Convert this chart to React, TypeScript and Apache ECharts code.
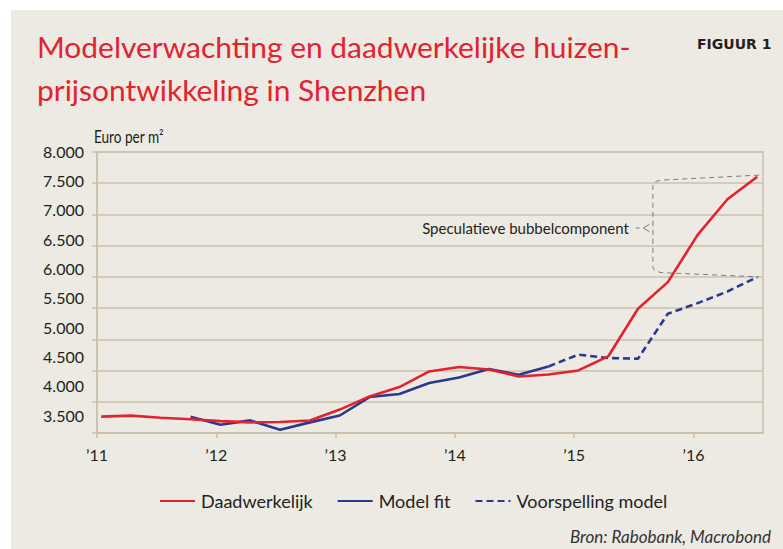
import React, { useEffect, useRef } from "react";
import * as echarts from "echarts";

// ---- Data ----
const quarters = [
  "2011K1", "2011K2", "2011K3", "2011K4",
  "2012K1", "2012K2", "2012K3", "2012K4",
  "2013K1", "2013K2", "2013K3", "2013K4",
  "2014K1", "2014K2", "2014K3", "2014K4",
  "2015K1", "2015K2", "2015K3", "2015K4",
  "2016K1", "2016K2", "2016K3",
];
const daadwerkelijk = [
  3762, 3778, 3745, 3720,
  3690, 3670, 3675, 3700,
  3875, 4086, 4236, 4486,
  4556, 4518, 4406, 4438,
  4502, 4726, 5489, 5916,
  6672, 7243, 7605,
];
const modelFit = [
  null, null, null, 3762,
  3633, 3702, 3553, 3670,
  3780, 4076, 4125, 4300,
  4390, 4524, 4433, 4566,
  null, null, null, null,
  null, null, null,
];
const voorspellingModel = [
  null, null, null, null,
  null, null, null, null,
  null, null, null, null,
  null, null, null, 4566,
  4755, 4700, 4690, 5409,
  5580, 5766, 5996,
];
const seriesNames = ["Daadwerkelijk", "Model fit", "Voorspelling model"];
const yearTicks = [2011, 2012, 2013, 2014, 2015, 2016];
const yMin = 3500;
const yMax = 8000;
const yStep = 500;

// annotation anchors (in data units)
const bracketLeftX = 2015.66;
const bracketRightX = 2016.55;
const bracketTopValue = 7630;
const bracketBottomValue = 6000;

const RED = "#E3222F";
const BLUE = "#2A3990";
const GRID = "#CDC1AB";
const TEXT = "#231F20";
const FONT = "Lato";

function quarterToYear(q: string): number {
  const y = Number(q.slice(0, 4));
  const n = Number(q.slice(5));
  return y + (n - 1) * 0.25 + 0.035;
}

function pairs(values: (number | null)[]) {
  const out: [number, number][] = [];
  values.forEach((v, i) => {
    if (v !== null) out.push([quarterToYear(quarters[i]), v]);
  });
  return out;
}

function fmtThousands(v: number): string {
  const s = String(Math.round(v));
  return s.replace(/\B(?=(\d{3})+(?!\d))/g, ".");
}

export default function App() {
  const ref = useRef<HTMLDivElement>(null);

  useEffect(() => {
    if (!ref.current) return;
    const chart = echarts.init(ref.current, null, { renderer: "svg" });

    const option: any = {
      animation: false,
      backgroundColor: "transparent",
      grid: [
        {
          left: 97, top: 152, width: 666, height: 281,
          show: true, borderColor: GRID, borderWidth: 1.5,
          backgroundColor: "transparent",
        },
        { left: 92, top: 151, width: 1, height: 264, show: false },
      ],
      xAxis: [
        {
          type: "value", gridIndex: 0, min: 2011, max: 2016.583,
          axisLine: { show: true, lineStyle: { color: GRID, width: 1.5 } },
          axisTick: {
            show: true, length: 5, inside: false,
            lineStyle: { color: GRID, width: 1.5 },
            customValues: yearTicks,
          },
          axisLabel: {
            customValues: yearTicks,
            formatter: (v: number) => "\u2019" + String(v).slice(2),
            fontFamily: FONT, fontSize: 16, color: TEXT, margin: 13,
          },
          splitLine: { show: false },
        },
        { type: "value", gridIndex: 1, show: false, min: 0, max: 1 },
      ],
      yAxis: [
        {
          type: "value", gridIndex: 0, min: yMin, max: yMax, interval: yStep,
          axisLine: { show: true, lineStyle: { color: GRID, width: 1.5 } },
          axisTick: { show: true, length: 5, lineStyle: { color: GRID, width: 1.5 } },
          axisLabel: { show: false },
          splitLine: { show: true, lineStyle: { color: GRID, width: 1.5 } },
        },
        {
          type: "value", gridIndex: 1, min: yMin, max: yMax, interval: yStep,
          axisLine: { show: false }, axisTick: { show: false },
          splitLine: { show: false },
          axisLabel: {
            formatter: (v: number) => fmtThousands(v),
            fontFamily: FONT, fontSize: 16, color: TEXT, margin: 8,
          },
        },
      ],
      legend: {
        left: 154, top: 487,
        itemWidth: 35, itemHeight: 2, itemGap: 24,
        data: seriesNames,
        itemStyle: { opacity: 0 },
        textStyle: { fontFamily: FONT, fontSize: 18, color: TEXT, padding: [0, 0, 0, 1] },
      },
      series: [
        {
          name: seriesNames[1], type: "line", xAxisIndex: 0, yAxisIndex: 0,
          data: pairs(modelFit), symbol: "none",
          lineStyle: { color: BLUE, width: 2.6 }, itemStyle: { color: BLUE }, z: 2,
        },
        {
          name: seriesNames[2], type: "line", xAxisIndex: 0, yAxisIndex: 0,
          data: pairs(voorspellingModel), symbol: "none",
          lineStyle: { color: BLUE, width: 2.6, type: [7, 4] }, itemStyle: { color: BLUE }, z: 2,
        },
        {
          name: seriesNames[0], type: "line", xAxisIndex: 0, yAxisIndex: 0,
          data: pairs(daadwerkelijk), symbol: "none",
          lineStyle: { color: RED, width: 2.6 }, itemStyle: { color: RED }, z: 3,
        },
      ],
    };
    chart.setOption(option);

    const pT = chart.convertToPixel({ xAxisIndex: 0, yAxisIndex: 0 }, [bracketRightX, bracketTopValue]) as number[];
    const pB = chart.convertToPixel({ xAxisIndex: 0, yAxisIndex: 0 }, [bracketRightX, bracketBottomValue]) as number[];
    const pL = chart.convertToPixel({ xAxisIndex: 0, yAxisIndex: 0 }, [bracketLeftX, bracketTopValue]) as number[];
    const xV = pL[0];
    const midY = (pT[1] + pB[1]) / 2 + 2;
    const dash = { stroke: "#7A7A7A", lineWidth: 1, lineDash: [5, 4], fill: null };

    chart.setOption({
      graphic: [
        {
          type: "text", x: 37, y: 46.5, scaleX: 1.07,
          style: { text: "Modelverwachting en daadwerkelijke huizen-", fontFamily: FONT, fontSize: 28, fill: RED, verticalAlign: "middle" },
        },
        {
          type: "text", x: 37, y: 89.5, scaleX: 1.07,
          style: { text: "prijsontwikkeling in Shenzhen", fontFamily: FONT, fontSize: 28, fill: RED, verticalAlign: "middle" },
        },
        {
          type: "text", x: 697, y: 43.5,
          style: { text: "FIGUUR 1", fontFamily: "DejaVu Sans", fontWeight: "bold", fontSize: 14, fill: TEXT, verticalAlign: "middle" },
        },
        {
          type: "text", x: 94, y: 136.5, scaleX: 0.8,
          style: { text: "Euro per m\u00B2", fontFamily: FONT, fontSize: 17, fill: TEXT, verticalAlign: "middle" },
        },
        {
          type: "text", x: 771, y: 536.5,
          style: { text: "Bron: Rabobank, Macrobond", fontFamily: FONT, fontStyle: "italic", fontSize: 17, fill: "#333", align: "right", verticalAlign: "middle" },
        },
        {
          type: "text", x: xV - 24, y: midY,
          style: { text: "Speculatieve bubbelcomponent", fontFamily: FONT, fontSize: 15, fill: TEXT, align: "right", verticalAlign: "middle" },
        },
        {
          type: "polyline",
          shape: {
            points: [
              [pT[0], pT[1]], [xV + 8, pT[1] + 5], [xV + 2.5, pT[1] + 6.5], [xV, pT[1] + 10],
              [xV, pB[1] - 9], [xV + 2.5, pB[1] - 6], [xV + 8, pB[1] - 4.3], [pB[0], pB[1]],
            ],
          },
          style: dash, silent: true,
        },
        {
          type: "line",
          shape: { x1: xV - 17, y1: midY, x2: xV - 13.5, y2: midY },
          style: { stroke: "#7A7A7A", lineWidth: 1 }, silent: true,
        },
        {
          type: "polyline",
          shape: { points: [[xV - 3.5, midY - 3.7], [xV - 9.5, midY], [xV - 3.5, midY + 3.7]] },
          style: { stroke: "#7A7A7A", lineWidth: 1, fill: null }, silent: true,
        },
      ],
    });

    return () => chart.dispose();
  }, []);

  return (
    <div style={{ position: "absolute", left: 0, top: 0, width: 783, height: 549, background: "#ffffff", overflow: "hidden" }}>
      <div style={{ position: "absolute", left: 11, top: 10, width: 772, height: 539, background: "#EDEAE3" }} />
      <div ref={ref} style={{ position: "absolute", left: 0, top: 0, width: 783, height: 549 }} />
    </div>
  );
}
